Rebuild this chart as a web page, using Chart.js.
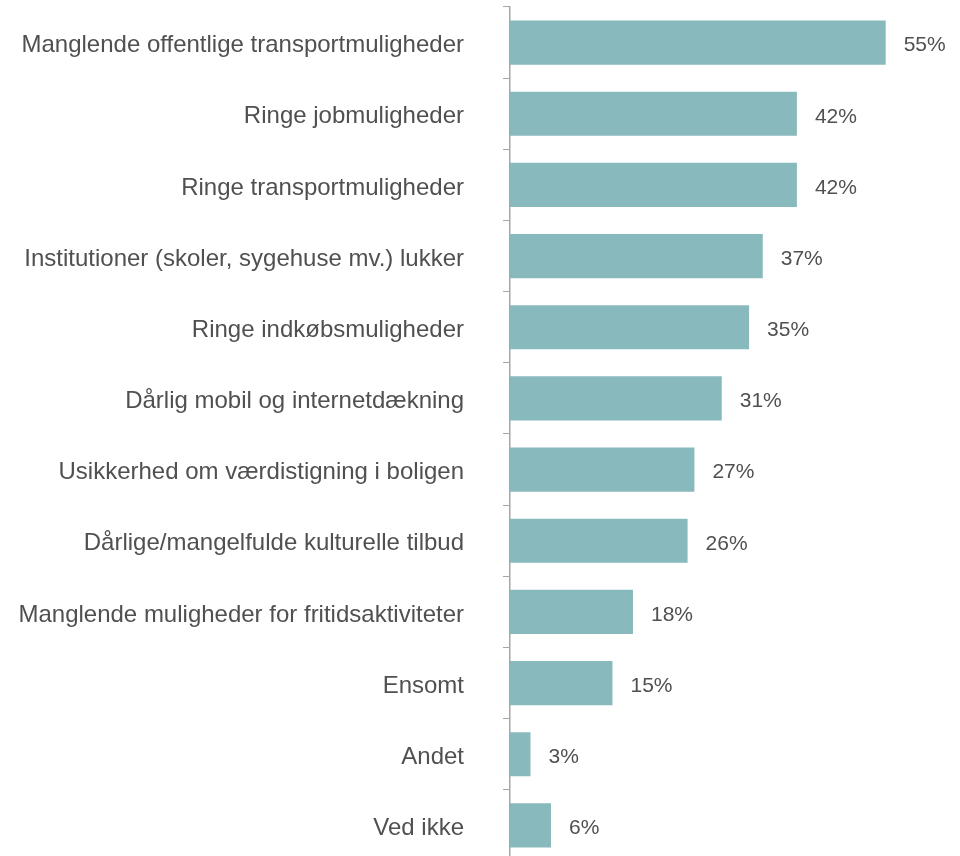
<!DOCTYPE html>
<html>
<head>
<meta charset="utf-8">
<script src="https://cdn.jsdelivr.net/npm/chart.js@4"></script>
<style>
  html, body { margin: 0; padding: 0; overflow: hidden; background: #fff; }
  body { width: 960px; height: 856px; position: relative; }
  /* y-aksens tick-padding skubber tegneområdet ned, derfor forskydes lærredet op */
  #wrap { position: absolute; left: 0; top: -44px; width: 960px; height: 956px; }
</style>
</head>
<body>
<div id="wrap"><canvas id="barChart"></canvas></div>
<script>
// data
const categories = [
  "Manglende offentlige transportmuligheder",
  "Ringe jobmuligheder",
  "Ringe transportmuligheder",
  "Institutioner (skoler, sygehuse mv.) lukker",
  "Ringe indkøbsmuligheder",
  "Dårlig mobil og internetdækning",
  "Usikkerhed om værdistigning i boligen",
  "Dårlige/mangelfulde kulturelle tilbud",
  "Manglende muligheder for fritidsaktiviteter",
  "Ensomt",
  "Andet",
  "Ved ikke"
];
const values = [55, 42, 42, 37, 35, 31, 27, 26, 18, 15, 3, 6];

const fontFamily = "'Liberation Sans', Arial, sans-serif";

// skriver procenterne til højre for søjlerne
const valueLabels = {
  id: "valueLabels",
  afterDatasetsDraw(chart) {
    const ctx = chart.ctx;
    const meta = chart.getDatasetMeta(0);
    ctx.save();
    ctx.font = "21px " + fontFamily;
    ctx.fillStyle = "#505050";
    ctx.textAlign = "left";
    ctx.textBaseline = "middle";
    meta.data.forEach(function (bar, i) {
      ctx.fillText(values[i] + "%", bar.x + 18, bar.y + 3);
    });
    ctx.restore();
  }
};

window.addEventListener("DOMContentLoaded", function () {
  const ctx = document.getElementById("barChart").getContext("2d");
  new Chart(ctx, {
    type: "bar",
    data: {
      labels: categories,
      datasets: [{
        data: values,
        backgroundColor: "#88b9bc",
        barPercentage: 0.62,
        categoryPercentage: 1
      }]
    },
    options: {
      indexAxis: "y",
      responsive: true,
      maintainAspectRatio: false,
      animation: false,
      layout: { padding: { top: 0, bottom: 0, right: 6, left: 0 } },
      plugins: { legend: { display: false }, tooltip: { enabled: false } },
      scales: {
        x: { display: false, min: 0, max: 65 },
        y: {
          afterFit: function (scale) { scale.width = 510; },
          border: { color: "#a6a6a6", width: 1.5 },
          grid: { drawOnChartArea: false, drawTicks: true, tickLength: 7, color: "#a6a6a6", lineWidth: 1 },
          ticks: {
            padding: 39,
            labelOffset: 3,
            color: "#505050",
            font: { family: fontFamily, size: 24, lineHeight: 1 }
          }
        }
      }
    },
    plugins: [valueLabels]
  });
});
</script>
</body>
</html>
